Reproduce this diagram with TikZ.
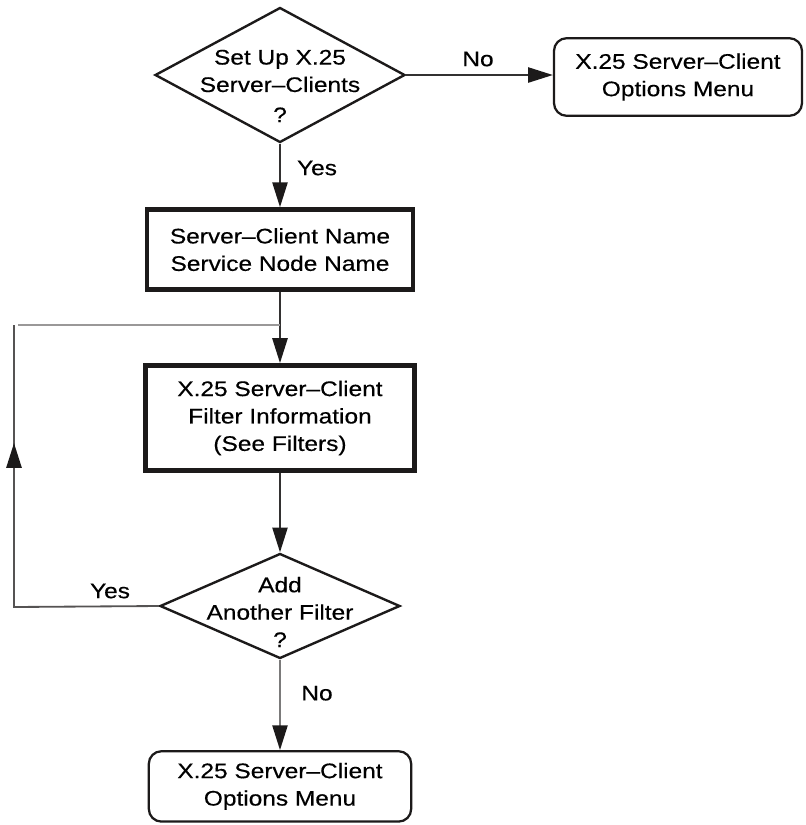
\documentclass[tikz,border=0pt]{standalone}
\usepackage{fontspec}
\setmainfont[FakeStretch=1.16, FakeBold=0.4]{Liberation Sans}
\usetikzlibrary{arrows.meta, positioning, calc, shapes.geometric}
\definecolor{boxLine}{HTML}{1C1A1A}
\definecolor{flowLine}{HTML}{333131}
\definecolor{loopLine}{HTML}{555353}
\definecolor{softLine}{HTML}{9A9898}

\begin{document}
\begin{tikzpicture}[
  font=\fontsize{15}{19.5}\selectfont,
  decide/.style ={diamond, draw=boxLine, line width=1.7pt, inner sep=0pt},
  qtext/.style  ={align=center, inner sep=0pt},
  task/.style   ={draw=boxLine, line width=3.5pt, align=center, inner sep=0pt},
  menu/.style   ={rounded corners=9pt, draw=boxLine, line width=1.6pt, align=center, inner sep=0pt},
  answer/.style ={inner sep=0pt},
  flow/.style   ={-{Triangle[length=0.62cm, width=0.38cm, color=boxLine]}, draw=flowLine, line width=1.3pt},
  back/.style   ={draw=loopLine, line width=1.3pt},
]
\useasboundingbox (0,0) rectangle (20.15,-20.625);

% ----- first question -----
\node[decide, minimum width=6.25cm, minimum height=3.375cm] (SETUP) at (7.0,-1.875) {};
\node[qtext] (SETUPTXT) at (7.0,-2.15) {Set Up X.25\\Server--Clients\\[2pt]?};
\node[menu, minimum width=6.2cm, minimum height=1.94cm] (MENUA) at (16.95,-1.925)
  {X.25 Server--Client\\Options Menu};

% ----- data entry boxes -----
\node[task, minimum width=6.65cm, minimum height=2.0cm] (NAMES) at (7.0,-6.24)
  {Server--Client Name\\Service Node Name};
\node[task, minimum width=6.725cm, minimum height=2.625cm] (FILTER) at (7.0,-10.45)
  {X.25 Server--Client\\Filter Information\\(See Filters)};

% ----- second question -----
\node[decide, minimum width=6.0cm, minimum height=2.625cm] (MORE) at (7.0,-15.15) {};
\node[qtext] (MORETXT) at (7.0,-15.3) {Add\\Another Filter\\?};
\node[menu, minimum width=6.56cm, minimum height=1.76cm] (MENUB) at (7.0,-19.66)
  {X.25 Server--Client\\Options Menu};

% ----- answers -----
\node[answer] (noA)  at (11.95,-1.475) {No};
\node[answer] (yesA) at (7.925,-4.2)   {Yes};
\node[answer] (yesB) at (2.75,-14.775) {Yes};
\node[answer] (noB)  at (7.925,-17.33) {No};

% ----- arrows -----
\draw[flow] (SETUP.east) -- (SETUP.east -| MENUA.west);
\draw[flow] (SETUP.south) -- (NAMES.north);
\draw[flow] (NAMES.south) -- (FILTER.north);
\draw[flow] (FILTER.south) -- (MORE.north);
\draw[flow, draw=softLine!80!black] (MORE.south) -- (MENUB.north);

% loop back on the left side
\coordinate (loopBot) at (0.35,-15.175);
\coordinate (loopTip) at (0.35,-11.075);
\coordinate (loopTop) at (0.35,-8.125);
\coordinate (join)    at (7.0,-8.125);
\draw[back] (MORE.west) -- (loopBot) -- (loopTop);
\draw[flow, draw=loopLine] (loopBot) -- (loopTip);
\draw[back, draw=softLine] ($(loopTop)+(0.1,0)$) -- (join);

\end{tikzpicture}
\end{document}
